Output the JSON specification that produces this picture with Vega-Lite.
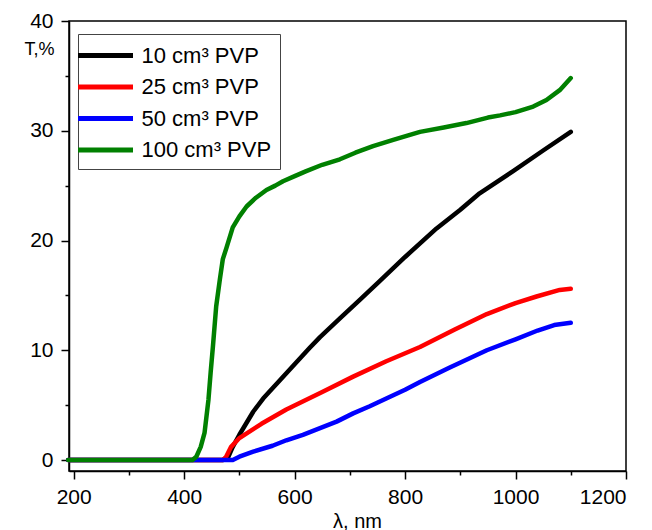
{
  "$schema": "https://vega.github.io/schema/vega-lite/v6.json",
  "width": 557,
  "height": 450,
  "autosize": {"type": "none"},
  "padding": {"left": 69, "top": 21, "right": 26, "bottom": 59},
  "background": "white",
  "config": {
    "view": {"stroke": "black", "strokeWidth": 1.5},
    "font": "Liberation Sans",
    "axis": {
      "grid": false,
      "domainColor": "black",
      "domainWidth": 1.5,
      "tickColor": "black",
      "tickWidth": 1.5,
      "labelColor": "black",
      "labelFont": "Liberation Sans",
      "labelFontSize": 21,
      "titleFont": "Liberation Sans",
      "titleFontWeight": "normal",
      "titleColor": "black"
    }
  },
  "data": {
    "values": [
      {"s": "10 cm³ PVP", "x": 190, "y": 0},
      {"s": "10 cm³ PVP", "x": 470, "y": 0},
      {"s": "10 cm³ PVP", "x": 480, "y": 0.3},
      {"s": "10 cm³ PVP", "x": 488, "y": 1.2},
      {"s": "10 cm³ PVP", "x": 500, "y": 2.3},
      {"s": "10 cm³ PVP", "x": 525, "y": 4.4},
      {"s": "10 cm³ PVP", "x": 543, "y": 5.6},
      {"s": "10 cm³ PVP", "x": 585, "y": 7.9},
      {"s": "10 cm³ PVP", "x": 627, "y": 10.2},
      {"s": "10 cm³ PVP", "x": 646, "y": 11.2},
      {"s": "10 cm³ PVP", "x": 682, "y": 12.9},
      {"s": "10 cm³ PVP", "x": 718, "y": 14.6},
      {"s": "10 cm³ PVP", "x": 754, "y": 16.3},
      {"s": "10 cm³ PVP", "x": 800, "y": 18.5},
      {"s": "10 cm³ PVP", "x": 857, "y": 21.1},
      {"s": "10 cm³ PVP", "x": 900, "y": 22.8},
      {"s": "10 cm³ PVP", "x": 935, "y": 24.3},
      {"s": "10 cm³ PVP", "x": 995, "y": 26.3},
      {"s": "10 cm³ PVP", "x": 1050, "y": 28.2},
      {"s": "10 cm³ PVP", "x": 1100, "y": 29.9},
      {"s": "25 cm³ PVP", "x": 190, "y": 0},
      {"s": "25 cm³ PVP", "x": 470, "y": 0},
      {"s": "25 cm³ PVP", "x": 476, "y": 0.3},
      {"s": "25 cm³ PVP", "x": 485, "y": 1.2},
      {"s": "25 cm³ PVP", "x": 500, "y": 2.0},
      {"s": "25 cm³ PVP", "x": 540, "y": 3.3},
      {"s": "25 cm³ PVP", "x": 585, "y": 4.6},
      {"s": "25 cm³ PVP", "x": 650, "y": 6.2},
      {"s": "25 cm³ PVP", "x": 706, "y": 7.6},
      {"s": "25 cm³ PVP", "x": 766, "y": 9.0},
      {"s": "25 cm³ PVP", "x": 827, "y": 10.3},
      {"s": "25 cm³ PVP", "x": 890, "y": 11.9},
      {"s": "25 cm³ PVP", "x": 948, "y": 13.3},
      {"s": "25 cm³ PVP", "x": 1000, "y": 14.3},
      {"s": "25 cm³ PVP", "x": 1038, "y": 14.9},
      {"s": "25 cm³ PVP", "x": 1080, "y": 15.5},
      {"s": "25 cm³ PVP", "x": 1100, "y": 15.6},
      {"s": "50 cm³ PVP", "x": 190, "y": 0},
      {"s": "50 cm³ PVP", "x": 488, "y": 0},
      {"s": "50 cm³ PVP", "x": 500, "y": 0.3},
      {"s": "50 cm³ PVP", "x": 525, "y": 0.76},
      {"s": "50 cm³ PVP", "x": 560, "y": 1.3},
      {"s": "50 cm³ PVP", "x": 585, "y": 1.8},
      {"s": "50 cm³ PVP", "x": 615, "y": 2.3},
      {"s": "50 cm³ PVP", "x": 646, "y": 2.9},
      {"s": "50 cm³ PVP", "x": 676, "y": 3.5},
      {"s": "50 cm³ PVP", "x": 706, "y": 4.25},
      {"s": "50 cm³ PVP", "x": 736, "y": 4.9},
      {"s": "50 cm³ PVP", "x": 766, "y": 5.6},
      {"s": "50 cm³ PVP", "x": 800, "y": 6.4},
      {"s": "50 cm³ PVP", "x": 827, "y": 7.1},
      {"s": "50 cm³ PVP", "x": 880, "y": 8.4},
      {"s": "50 cm³ PVP", "x": 948, "y": 10.0},
      {"s": "50 cm³ PVP", "x": 1000, "y": 11.0},
      {"s": "50 cm³ PVP", "x": 1040, "y": 11.8},
      {"s": "50 cm³ PVP", "x": 1070, "y": 12.3},
      {"s": "50 cm³ PVP", "x": 1100, "y": 12.5},
      {"s": "100 cm³ PVP", "x": 190, "y": 0},
      {"s": "100 cm³ PVP", "x": 415, "y": 0},
      {"s": "100 cm³ PVP", "x": 422, "y": 0.3},
      {"s": "100 cm³ PVP", "x": 430, "y": 1.2},
      {"s": "100 cm³ PVP", "x": 437, "y": 2.5},
      {"s": "100 cm³ PVP", "x": 444, "y": 5.5},
      {"s": "100 cm³ PVP", "x": 448, "y": 8.0},
      {"s": "100 cm³ PVP", "x": 452, "y": 10.3},
      {"s": "100 cm³ PVP", "x": 458, "y": 14.0},
      {"s": "100 cm³ PVP", "x": 464.5, "y": 16.4},
      {"s": "100 cm³ PVP", "x": 470, "y": 18.3},
      {"s": "100 cm³ PVP", "x": 477, "y": 19.4},
      {"s": "100 cm³ PVP", "x": 488, "y": 21.2},
      {"s": "100 cm³ PVP", "x": 500, "y": 22.2},
      {"s": "100 cm³ PVP", "x": 513, "y": 23.1},
      {"s": "100 cm³ PVP", "x": 530, "y": 23.9},
      {"s": "100 cm³ PVP", "x": 549, "y": 24.6},
      {"s": "100 cm³ PVP", "x": 565, "y": 25.0},
      {"s": "100 cm³ PVP", "x": 579, "y": 25.4},
      {"s": "100 cm³ PVP", "x": 597, "y": 25.8},
      {"s": "100 cm³ PVP", "x": 620, "y": 26.3},
      {"s": "100 cm³ PVP", "x": 650, "y": 26.9},
      {"s": "100 cm³ PVP", "x": 682, "y": 27.4},
      {"s": "100 cm³ PVP", "x": 710, "y": 28.0},
      {"s": "100 cm³ PVP", "x": 742, "y": 28.6},
      {"s": "100 cm³ PVP", "x": 780, "y": 29.2},
      {"s": "100 cm³ PVP", "x": 827, "y": 29.9},
      {"s": "100 cm³ PVP", "x": 870, "y": 30.3},
      {"s": "100 cm³ PVP", "x": 911, "y": 30.7},
      {"s": "100 cm³ PVP", "x": 950, "y": 31.2},
      {"s": "100 cm³ PVP", "x": 972, "y": 31.4},
      {"s": "100 cm³ PVP", "x": 1000, "y": 31.7},
      {"s": "100 cm³ PVP", "x": 1032, "y": 32.2},
      {"s": "100 cm³ PVP", "x": 1056, "y": 32.8},
      {"s": "100 cm³ PVP", "x": 1080, "y": 33.7},
      {"s": "100 cm³ PVP", "x": 1100, "y": 34.8}
    ]
  },
  "resolve": {"axis": {"x": "independent", "y": "independent"}},
  "layer": [
    {
      "mark": {"type": "line", "opacity": 0},
      "encoding": {
        "x": {"field": "x", "type": "quantitative", "scale": {"domain": [191.5, 1200], "nice": false, "zero": false},
          "axis": {"orient": "bottom", "values": [300, 500, 700, 900, 1100], "labels": false, "domain": false, "tickSize": 4, "title": null}},
        "y": {"field": "y", "type": "quantitative", "scale": {"domain": [-1, 40], "nice": false, "zero": false},
          "axis": {"orient": "left", "values": [5, 15, 25, 35], "labels": false, "domain": false, "tickSize": 4, "title": null}}
      }
    },
    {
      "mark": {"type": "line", "strokeWidth": 4.5, "strokeCap": "round", "strokeJoin": "round"},
      "encoding": {
        "x": {"field": "x", "type": "quantitative", "scale": {"domain": [191.5, 1200], "nice": false, "zero": false},
          "axis": {"orient": "bottom", "values": [200, 400, 600, 800, 1000, 1200], "format": "d", "tickSize": 8, "labelPadding": 7, "title": "λ, nm", "titleFontSize": 20, "titlePadding": 4, "titleX": 288}},
        "y": {"field": "y", "type": "quantitative", "scale": {"domain": [-1, 40], "nice": false, "zero": false},
          "axis": {"orient": "left", "values": [0, 10, 20, 30, 40], "format": "d", "tickSize": 8, "labelPadding": 8, "title": "T,%", "titleFontSize": 18, "titleAngle": 0, "titleX": -30, "titleY": 28, "titleAlign": "center", "titleBaseline": "middle"}},
        "color": {"field": "s", "type": "nominal",
          "scale": {"domain": ["10 cm³ PVP", "25 cm³ PVP", "50 cm³ PVP", "100 cm³ PVP"], "range": ["#000000", "#ff0000", "#0000ff", "#008000"]},
          "legend": {"orient": "none", "legendX": 9, "legendY": 13, "title": null, "symbolType": "M-2.5,0H2.5", "symbolSize": 484, "symbolStrokeWidth": 5, "symbolOffset": 6, "labelFontSize": 22, "labelFont": "Liberation Sans", "labelColor": "black", "strokeColor": "#444", "fillColor": "white", "padding": 8, "rowPadding": 6.5, "labelOffset": 22.5}}
      }
    }
  ]
}
